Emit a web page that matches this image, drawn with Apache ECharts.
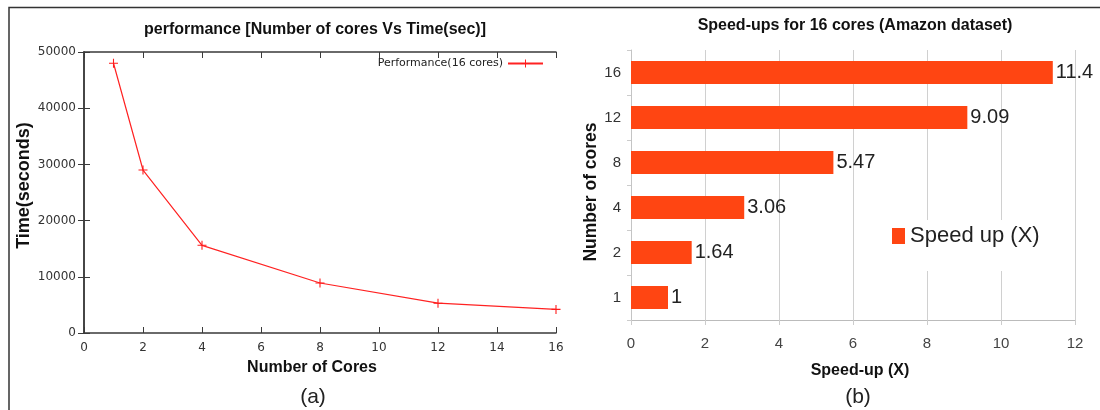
<!DOCTYPE html>
<html>
<head>
<meta charset="utf-8">
<script src="https://cdn.jsdelivr.net/npm/echarts@6/dist/echarts.min.js"></script>
<style>
  html, body { margin: 0; padding: 0; background: #fff; }
  #chart { width: 1100px; height: 410px; }
</style>
</head>
<body>
<div id="chart"></div>
<script>
// Panel (a): run time against number of cores
const cores = [1, 2, 4, 8, 12, 16];
const timeSeconds = [48000, 29000, 15600, 8900, 5300, 4200];
const xTicksCores = [0, 2, 4, 6, 8, 10, 12, 14, 16];
const yTicksTime = [0, 10000, 20000, 30000, 40000, 50000];

// Panel (b): speed-up per core count
const speedupCores = ['1', '2', '4', '8', '12', '16'];
const speedup = [1, 1.64, 3.06, 5.47, 9.09, 11.4];
const xTicksSpeedup = [0, 2, 4, 6, 8, 10, 12];

const perfName = 'Performance(16 cores)';
const speedName = 'Speed up (X)';

const plusPath = 'path://M-0.12,-1H0.12V-0.12H1V0.12H0.12V1H-0.12V0.12H-1V-0.12H-0.12Z';
const gnuFont = '"DejaVu Sans", sans-serif';
const arial = '"Liberation Sans", Arial, sans-serif';
const boxColor = '#3a3a3a';
const barColor = '#ff4512';

const chart = echarts.init(document.getElementById('chart'), null, { renderer: 'canvas' });

const leftX = {
  type: 'value', gridIndex: 0,
  min: xTicksCores[0], max: xTicksCores[xTicksCores.length - 1],
  interval: xTicksCores[1] - xTicksCores[0]
};
const leftY = {
  type: 'value', gridIndex: 0,
  min: yTicksTime[0], max: yTicksTime[yTicksTime.length - 1],
  interval: yTicksTime[1] - yTicksTime[0]
};
const plain = v => String(v);

const option = {
  animation: false,
  backgroundColor: '#fff',
  title: [
    {
      text: 'performance [Number of cores Vs Time(sec)]',
      left: 310, top: 17, textAlign: 'center',
      textStyle: { fontFamily: arial, fontSize: 16, fontWeight: 'bold', color: '#111' }
    },
    {
      text: 'Speed-ups for 16 cores (Amazon dataset)',
      left: 850, top: 13, textAlign: 'center',
      textStyle: { fontFamily: arial, fontSize: 16, fontWeight: 'bold', color: '#111' }
    },
    {
      text: '(a)', left: 308, top: 382, textAlign: 'center',
      textStyle: { fontFamily: arial, fontSize: 21, fontWeight: 'normal', color: '#222' }
    },
    {
      text: '(b)', left: 853, top: 382, textAlign: 'center',
      textStyle: { fontFamily: arial, fontSize: 21, fontWeight: 'normal', color: '#222' }
    }
  ],
  legend: [
    {
      data: [perfName],
      right: 556, top: 58,
      align: 'right',
      itemWidth: 35, itemHeight: 10,
      padding: 0,
      textStyle: { fontFamily: gnuFont, fontSize: 11, color: '#222' }
    },
    {
      data: [{ name: speedName, icon: 'rect' }],
      left: 884, top: 220,
      itemWidth: 13, itemHeight: 16, itemGap: 4,
      backgroundColor: '#fff',
      padding: [5, 10, 24, 8],
      textStyle: { fontFamily: arial, fontSize: 22, color: '#222' }
    }
  ],
  grid: [
    { left: 84, right: 544, top: 52, bottom: 77 },
    { left: 631, right: 25, top: 50, bottom: 90 }
  ],
  xAxis: [
    Object.assign({}, leftX, {
      position: 'bottom',
      name: 'Number of Cores', nameLocation: 'middle', nameGap: 27,
      nameTextStyle: {
        fontFamily: arial, fontSize: 16, fontWeight: 'bold', color: '#111',
        padding: [0, 16, 0, 0]
      },
      axisLine: { show: true, onZero: false, lineStyle: { color: boxColor, width: 1.5 } },
      axisTick: { show: true, inside: true, length: 6, lineStyle: { color: boxColor, width: 1 } },
      axisLabel: { margin: 9, fontFamily: gnuFont, fontSize: 12, color: '#333', formatter: plain },
      splitLine: { show: false }
    }),
    Object.assign({}, leftX, {
      position: 'top',
      axisLine: { show: true, onZero: false, lineStyle: { color: boxColor, width: 1.5 } },
      axisTick: { show: true, inside: true, length: 6, lineStyle: { color: boxColor, width: 1 } },
      axisLabel: { show: false },
      splitLine: { show: false }
    }),
    {
      type: 'value', gridIndex: 1,
      min: xTicksSpeedup[0], max: xTicksSpeedup[xTicksSpeedup.length - 1],
      interval: xTicksSpeedup[1] - xTicksSpeedup[0],
      name: 'Speed-up (X)', nameLocation: 'middle', nameGap: 43,
      nameTextStyle: {
        fontFamily: arial, fontSize: 16, fontWeight: 'bold', color: '#111',
        padding: [0, 0, 0, 14]
      },
      axisLine: { show: true, lineStyle: { color: '#bbb', width: 1 } },
      axisTick: { show: true, length: 5, lineStyle: { color: '#ccc' } },
      axisLabel: { margin: 16, fontFamily: arial, fontSize: 15, color: '#444' },
      splitLine: { show: true, lineStyle: { color: '#d0d0d0', width: 1 } }
    }
  ],
  yAxis: [
    Object.assign({}, leftY, {
      position: 'left',
      name: 'Time(seconds)', nameLocation: 'middle', nameGap: 51,
      nameTextStyle: {
        fontFamily: arial, fontSize: 18, fontWeight: 'bold', color: '#111',
        padding: [0, 0, 0, 14]
      },
      axisLine: { show: true, lineStyle: { color: boxColor, width: 1.5 } },
      axisTick: { show: true, inside: true, length: 6, lineStyle: { color: boxColor, width: 1 } },
      axisLabel: { margin: 8, fontFamily: gnuFont, fontSize: 12, color: '#333', formatter: plain },
      splitLine: { show: false }
    }),
    Object.assign({}, leftY, {
      position: 'right',
      axisLine: { show: true, lineStyle: { color: boxColor, width: 1.5 } },
      axisTick: { show: true, inside: true, length: 6, lineStyle: { color: boxColor, width: 1 } },
      axisLabel: { show: false },
      splitLine: { show: false }
    }),
    {
      type: 'category', gridIndex: 1,
      data: speedupCores,
      name: 'Number of cores', nameLocation: 'middle', nameGap: 29,
      nameTextStyle: {
        fontFamily: arial, fontSize: 17.5, fontWeight: 'bold', color: '#111',
        padding: [0, 14, 0, 0]
      },
      axisLine: { show: true, lineStyle: { color: '#c4c4c4', width: 1 } },
      axisTick: { show: true, length: 4, lineStyle: { color: '#ccc' } },
      axisLabel: { margin: 10, fontFamily: arial, fontSize: 15, color: '#333' },
      splitLine: { show: false }
    }
  ],
  series: [
    {
      name: perfName,
      type: 'line',
      xAxisIndex: 0, yAxisIndex: 0,
      data: cores.map((c, i) => [c, timeSeconds[i]]),
      symbol: plusPath,
      symbolSize: 9,
      showSymbol: true,
      color: '#ff0000',
      itemStyle: { color: '#ff1a1a' },
      lineStyle: { color: '#ff2222', width: 1.2 }
    },
    {
      name: speedName,
      type: 'bar',
      xAxisIndex: 2, yAxisIndex: 2,
      data: speedup,
      barWidth: 23,
      itemStyle: { color: barColor },
      label: {
        show: true, position: 'right', distance: 3,
        fontFamily: arial, fontSize: 20, color: '#222'
      }
    }
  ],
  graphic: [
    {
      type: 'polyline', silent: true,
      shape: { points: [[9, 410], [9, 7.5], [1100, 7.5]] },
      style: { stroke: '#333', lineWidth: 1.5, fill: null }
    }
  ]
};

chart.setOption(option);
</script>
</body>
</html>
